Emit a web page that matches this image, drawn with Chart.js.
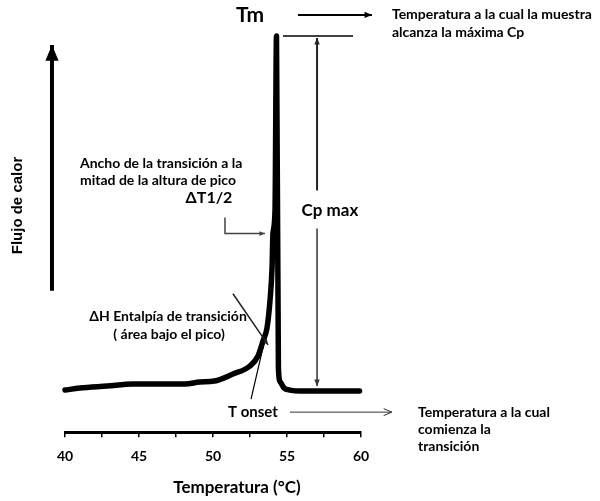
<!DOCTYPE html>
<html>
<head>
<meta charset="utf-8">
<script src="https://cdn.jsdelivr.net/npm/chart.js@4.4.1/dist/chart.umd.min.js"></script>
<style>
  html, body { margin: 0; padding: 0; background: #fff; }
  canvas { display: block; }
</style>
</head>
<body>
<canvas id="dscChart" width="600" height="501"></canvas>
<script>
// termograma DSC: temperatura (°C) vs flujo de calor (unidades arbitrarias)
const temperatura = [40, 41, 42.85, 44.6, 46.4, 48.1, 49.1, 50.1, 51.35, 52.5, 53.04, 53.38, 53.65, 53.85, 53.99, 54.05, 54.19, 54.29, 54.42, 54.55, 54.8, 55.2, 55.88, 59.9];
const flujo = [10.5, 11, 11.5, 12, 12, 12, 12.5, 12.75, 14.5, 16.5, 19, 22.75, 26, 32.75, 41, 49.5, 55.25, 98.75, 16, 12.5, 11, 10.5, 10.25, 10.25];

const xTicks = [40, 45, 50, 55, 60];
const xTitulo = 'Temperatura (°C)';
const yTitulo = 'Flujo de calor';

const FONT = 'Lato, "Liberation Sans", sans-serif';

function arrowHead(ctx, x1, y1, x2, y2, size, open) {
  const a = Math.atan2(y2 - y1, x2 - x1);
  ctx.beginPath();
  ctx.moveTo(x2 - size * Math.cos(a - 0.4), y2 - size * Math.sin(a - 0.4));
  ctx.lineTo(x2, y2);
  ctx.lineTo(x2 - size * Math.cos(a + 0.4), y2 - size * Math.sin(a + 0.4));
  if (open) {
    ctx.stroke();
  } else {
    ctx.closePath();
    ctx.fill();
  }
}

function arrow(ctx, pts, opts) {
  ctx.save();
  ctx.strokeStyle = opts.color || '#000';
  ctx.fillStyle = opts.color || '#000';
  ctx.lineWidth = opts.width || 1;
  ctx.beginPath();
  ctx.moveTo(pts[0][0], pts[0][1]);
  for (let i = 1; i < pts.length; i++) ctx.lineTo(pts[i][0], pts[i][1]);
  ctx.stroke();
  const n = pts.length;
  if (opts.head) {
    ctx.lineWidth = 1;
    arrowHead(ctx, pts[n - 2][0], pts[n - 2][1], pts[n - 1][0], pts[n - 1][1], opts.head, opts.open);
  }
  ctx.restore();
}

function text(ctx, str, x, y, font, align) {
  ctx.font = font;
  ctx.textAlign = align || 'left';
  ctx.textBaseline = 'middle';
  ctx.fillStyle = '#000';
  ctx.fillText(str, x, y);
}

// anotaciones en unidades de los ejes (°C, flujo)
const anotaciones = {
  id: 'anotaciones',
  afterDatasetsDraw(chart) {
    const ctx = chart.ctx;
    const px = t => chart.scales.x.getPixelForValue(t);
    const py = v => chart.scales.y.getPixelForValue(v);
    const pico = Math.max(...flujo);
    const base = flujo[flujo.length - 1];
    const body = 'bold 14px ' + FONT;

    // título del eje x
    text(ctx, xTitulo, px(51.62), chart.scales.x.bottom + 12, 'bold 17px ' + FONT, 'center');

    // eje de flujo de calor
    arrow(ctx, [[px(39.12), py(35.25)], [px(39.12), py(96.5)]], { width: 4, head: 17 });
    ctx.save();
    ctx.translate(px(36.82), py(56.5));
    ctx.rotate(-Math.PI / 2);
    text(ctx, yTitulo, 0, 0, 'bold 15px "Liberation Sans", Arial, sans-serif', 'center');
    ctx.restore();

    // Tm
    text(ctx, 'Tm', px(52.5), py(104), 'bold 21px ' + FONT, 'center');
    arrow(ctx, [[px(55.74), py(104)], [px(60.74), py(104)]], { width: 2, head: 8 });
    text(ctx, 'Temperatura a la cual la muestra', px(62.09), py(104), body);
    text(ctx, 'alcanza la máxima Cp', px(62.09), py(99.75), body);

    // Cp max
    arrow(ctx, [[px(54.73), py(pico)], [px(59.46), py(pico)]], { width: 1.5 });
    arrow(ctx, [[px(57.03), py(60.25)], [px(57.03), py(pico - 0.5)]], { width: 2, head: 7, color: '#222' });
    text(ctx, 'Cp max', px(57.9), py(55.25), 'bold 17px ' + FONT, 'center');
    arrow(ctx, [[px(57.03), py(50.75)], [px(57.03), py(base + 1.25)]], { width: 1.5, head: 7, color: '#333' });

    // ancho a media altura
    text(ctx, 'Ancho de la transición a la', px(41.01), py(67), body);
    text(ctx, 'mitad de la altura de pico', px(41.01), py(62.75), body);
    text(ctx, 'ΔT1/2', px(49.73), py(58.5), 'bold 16px ' + FONT, 'center');
    arrow(ctx, [[px(50.81), py(53.5)], [px(50.81), py(49.5)], [px(53.51), py(49.5)]], { width: 1.5, head: 6, color: '#444' });

    // entalpía
    text(ctx, 'ΔH Entalpía de transición', px(46.96), py(28.75), body, 'center');
    text(ctx, '( área bajo el pico)', px(47.03), py(24.25), body, 'center');
    arrow(ctx, [[px(51.35), py(34.5)], [px(53.72), py(21.75)]], { width: 1.5, head: 6, color: '#222' });

    // T onset
    arrow(ctx, [[px(52.57), py(8.25)], [px(53.45), py(22.25)]], { width: 1.2 });
    text(ctx, 'T onset', px(52.7), py(5), 'bold 15px ' + FONT, 'center');
    arrow(ctx, [[px(55.2), py(5)], [px(62.09), py(5)]], { width: 1, head: 9, open: true, color: '#333' });
    text(ctx, 'Temperatura a la cual', px(63.85), py(5), body);
    text(ctx, 'comienza la', px(63.85), py(0.75), body);
    text(ctx, 'transición', px(63.85), py(-3.5), body);
  }
};

new Chart(document.getElementById('dscChart'), {
  type: 'line',
  data: {
    datasets: [{
      data: temperatura.map((t, i) => ({ x: t, y: flujo[i] })),
      borderColor: '#000',
      borderWidth: 5.5,
      borderJoinStyle: 'round',
      borderCapStyle: 'round',
      cubicInterpolationMode: 'monotone',
      pointRadius: 0,
      fill: false,
      clip: false
    }]
  },
  options: {
    responsive: false,
    animation: false,
    layout: { padding: { left: 65, right: 239, top: 31, bottom: 25 } },
    plugins: { legend: { display: false }, tooltip: { enabled: false } },
    scales: {
      x: {
        type: 'linear',
        min: 40,
        max: 60,
        ticks: {
          stepSize: 2.5,
          autoSkip: false,
          maxRotation: 0,
          padding: 11,
          color: '#000',
          font: { family: FONT, size: 14, weight: 'bold' },
          callback: v => xTicks.includes(v) ? String(v) : ''
        },
        grid: { drawOnChartArea: false, drawTicks: true, tickLength: 5, color: '#000', lineWidth: 1.5 },
        border: { display: true, color: '#000', width: 3 },
        title: { display: false }
      },
      y: { display: false, min: 0, max: 100 }
    }
  },
  plugins: [anotaciones]
});
</script>
</body>
</html>
